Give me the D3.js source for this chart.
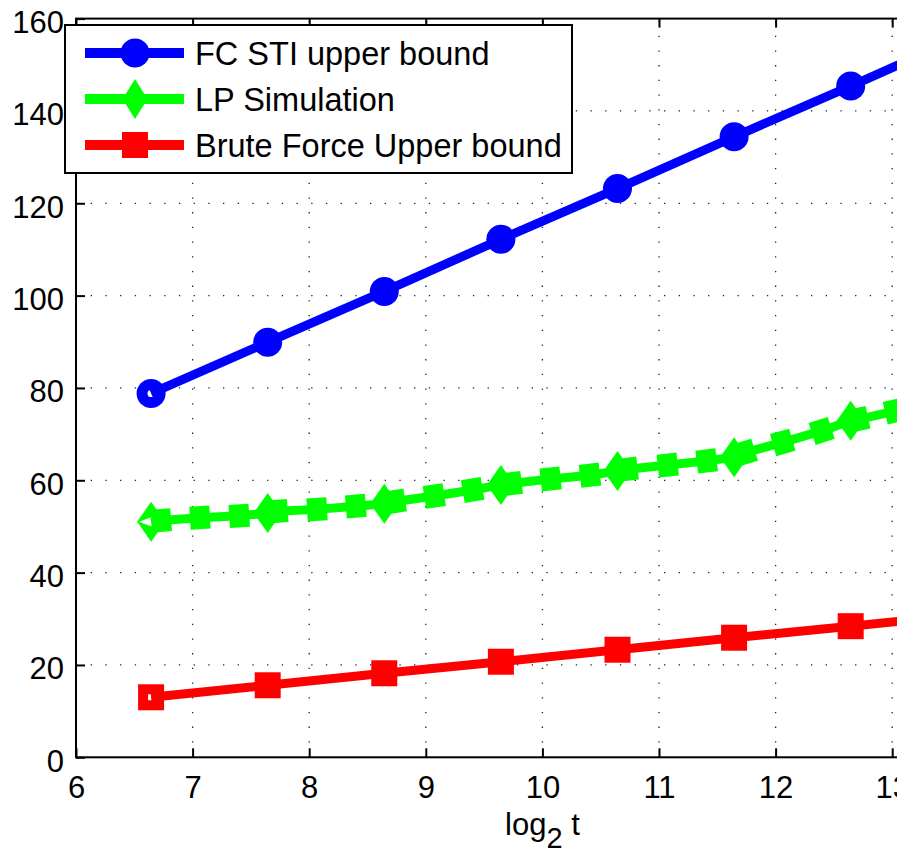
<!DOCTYPE html>
<html>
<head>
<meta charset="utf-8">
<script src="https://cdn.jsdelivr.net/npm/d3@7/dist/d3.min.js"></script>
<style>
  html, body { margin: 0; padding: 0; background: #fff; overflow: hidden; }
  svg { display: block; }
  text { font-family: "Liberation Sans", Arial, Helvetica, sans-serif; fill: #000; }
</style>
</head>
<body>
<svg id="chart" width="897" height="854"></svg>
<script>
// ---------------- data ----------------
const xTicks = [6, 7, 8, 9, 10, 11, 12, 13, 14];
const yTicks = [0, 20, 40, 60, 80, 100, 120, 140, 160];

// log2 t of the main points (t = 100, 200, ..., 12800)
const xMain = [6.644, 7.644, 8.644, 9.644, 10.644, 11.644, 12.644, 13.644];
const fcStiUpper = [78.8, 89.9, 100.9, 112.2, 123.2, 134.4, 145.4, 156.6];
const lpSimulation = [51.0, 52.9, 54.9, 59.0, 62.0, 65.0, 72.9, 78.6];
const bruteForceUpper = [13.0, 15.6, 18.2, 20.7, 23.3, 25.9, 28.4, 31.0];

// intermediate LP simulation points
const lpStepX = [6.730, 7.063, 7.400, 7.730, 8.067, 8.400, 8.738, 9.073, 9.402, 9.737,
                 10.071, 10.408, 10.731, 11.075, 11.409, 11.738, 12.061, 12.395, 12.709, 13.024, 13.360];
const lpStepY = [51.3, 51.9, 52.3, 53.3, 53.7, 54.4, 55.4, 56.6, 57.9, 59.3,
                 60.3, 61.1, 62.4, 63.3, 64.2, 66.0, 68.2, 70.7, 73.2, 75.0, 76.8];

const seriesNames = ["FC STI upper bound", "LP Simulation", "Brute Force Upper bound"];
const seriesColors = ["#0000ff", "#00ff00", "#ff0000"];
const xLabel = "log";
const xLabelSub = "2";
const xLabelTail = " t";

// ---------------- layout ----------------
const svg = d3.select("#chart");
const x = d3.scaleLinear().domain([6, 14]).range([76, 1008.8]);
const y = d3.scaleLinear().domain([0, 160]).range([757.3, 18.6]);
const LW = 9;
const tickLen = 9;
const tickFont = 31;

// grid
const grid = svg.append("g");
grid.selectAll("line.vx").data(xTicks.filter(d => d > 6 && d < 14)).enter().append("line")
  .attr("x1", d => x(d)).attr("x2", d => x(d))
  .attr("y1", y(0)).attr("y2", y(160))
  .attr("stroke", "#222").attr("stroke-width", 1.3)
  .attr("stroke-dasharray", "1.3,13.4");
grid.selectAll("line.hy").data(yTicks.filter(d => d > 0 && d < 160)).enter().append("line")
  .attr("x1", x(6)).attr("x2", x(14))
  .attr("y1", d => y(d)).attr("y2", d => y(d))
  .attr("stroke", "#222").attr("stroke-width", 1.3)
  .attr("stroke-dasharray", "1.3,13.4");

// axes box
const axesG = svg.append("g");
axesG.append("rect")
  .attr("x", x(6)).attr("y", y(160))
  .attr("width", x(14) - x(6)).attr("height", y(0) - y(160))
  .attr("fill", "none").attr("stroke", "#000").attr("stroke-width", 2);

// ticks (inward) using d3 axes
const axB = d3.axisBottom(x).tickValues(xTicks).tickSize(-tickLen).tickFormat(d3.format("d"));
const axT = d3.axisTop(x).tickValues(xTicks).tickSize(-tickLen).tickFormat("");
const axL = d3.axisLeft(y).tickValues(yTicks).tickSize(-tickLen).tickFormat(d3.format("d"));
const axR = d3.axisRight(y).tickValues(yTicks).tickSize(-tickLen).tickFormat("");

function styleAxis(g) {
  g.select(".domain").remove();
  g.selectAll(".tick line").attr("stroke", "#000").attr("stroke-width", 2);
  g.selectAll(".tick text").style("font-size", tickFont + "px")
    .style("font-family", '"Liberation Sans", Arial, Helvetica, sans-serif').attr("fill", "#000");
}
svg.append("g").attr("transform", `translate(0,${y(0)})`).call(axB).call(styleAxis)
  .selectAll(".tick text").attr("dy", "0.71em").attr("y", 19);
svg.append("g").attr("transform", `translate(0,${y(160)})`).call(axT).call(styleAxis);
svg.append("g").attr("transform", `translate(${x(6)},0)`).call(axL).call(styleAxis)
  .selectAll(".tick text").attr("dy", "0.45em").attr("x", -12);
svg.append("g").attr("transform", `translate(${x(14)},0)`).call(axR).call(styleAxis);

// x label
const xl = svg.append("text").attr("x", x(10)).attr("y", 835)
  .attr("text-anchor", "middle").style("font-size", "31px");
xl.append("tspan").text(xLabel);
xl.append("tspan").attr("dy", 13).style("font-size", "29px").text(xLabelSub);
xl.append("tspan").attr("dy", -13).text(xLabelTail);

// ---------------- marker helpers ----------------
function drawMarker(g, type, cx, cy, color, hole) {
  if (type === "circle") {
    g.append("circle").attr("cx", cx).attr("cy", cy).attr("r", 14.5).attr("fill", color);
    if (hole) g.append("circle").attr("cx", cx).attr("cy", cy).attr("r", 3.6).attr("fill", "#fff");
  } else if (type === "diamond") {
    const hw = 14, hh = 20;
    g.append("path").attr("d", `M${cx - hw},${cy}L${cx},${cy - hh}L${cx + hw},${cy}L${cx},${cy + hh}Z`).attr("fill", color);
    if (hole) {
      const a = 12, b = 4.5;
      g.append("path").attr("d", `M${cx - a},${cy}L${cx},${cy - b}L${cx + a},${cy}L${cx},${cy + b}Z`).attr("fill", "#fff");
    }
  } else if (type === "square") {
    const s = 26;
    g.append("rect").attr("x", cx - s / 2).attr("y", cy - s / 2).attr("width", s).attr("height", s).attr("fill", color);
    if (hole) g.append("rect").attr("x", cx - 3).attr("y", cy - 3).attr("width", 6).attr("height", 6).attr("fill", "#fff");
  }
}

const plotG = svg.append("g");
const line = d3.line().x(d => x(d[0])).y(d => y(d[1]));

// ---- FC STI upper bound (blue circles)
{
  const pts = xMain.map((d, i) => [d, fcStiUpper[i]]);
  const g = plotG.append("g");
  pts.forEach((p, i) => drawMarker(g, "circle", x(p[0]), y(p[1]), seriesColors[0], i === 0));
  g.append("path").attr("d", line(pts)).attr("fill", "none")
    .attr("stroke", seriesColors[0]).attr("stroke-width", LW).attr("stroke-linejoin", "round");
}

// ---- LP Simulation (green)
{
  const main = xMain.map((d, i) => [d, lpSimulation[i]]);
  const steps = lpStepX.map((d, i) => [d, lpStepY[i]]);
  const all = main.concat(steps).sort((a, b) => a[0] - b[0]);
  const g = plotG.append("g");
  steps.forEach((p) => {
    const idx = all.indexOf(p);
    const a = all[Math.max(0, idx - 1)], b = all[Math.min(all.length - 1, idx + 1)];
    const ang = Math.atan2(y(b[1]) - y(a[1]), x(b[0]) - x(a[0])) * 180 / Math.PI;
    g.append("rect").attr("x", -10).attr("y", -11.5).attr("width", 20).attr("height", 23)
      .attr("fill", seriesColors[1])
      .attr("transform", `translate(${x(p[0])},${y(p[1])}) rotate(${ang})`);
  });
  main.forEach((p, i) => drawMarker(g, "diamond", x(p[0]), y(p[1]), seriesColors[1], i === 0));
  g.append("path").attr("d", line(all)).attr("fill", "none")
    .attr("stroke", seriesColors[1]).attr("stroke-width", LW).attr("stroke-linejoin", "round");
}

// ---- Brute Force Upper bound (red squares)
{
  const pts = xMain.map((d, i) => [d, bruteForceUpper[i]]);
  const g = plotG.append("g");
  pts.forEach((p, i) => drawMarker(g, "square", x(p[0]), y(p[1]), seriesColors[2], i === 0));
  g.append("path").attr("d", line(pts)).attr("fill", "none")
    .attr("stroke", seriesColors[2]).attr("stroke-width", LW).attr("stroke-linejoin", "round");
}

// ---------------- legend ----------------
const legend = svg.append("g");
legend.append("rect").attr("x", 65).attr("y", 25).attr("width", 507).attr("height", 148)
  .attr("fill", "#fff").attr("stroke", "#000").attr("stroke-width", 2);
const legendRows = [53, 99, 145];
const legendMarkers = ["circle", "diamond", "square"];
seriesNames.forEach((name, i) => {
  const cy = legendRows[i];
  legend.append("line").attr("x1", 85).attr("x2", 184).attr("y1", cy).attr("y2", cy)
    .attr("stroke", seriesColors[i]).attr("stroke-width", 10);
  if (legendMarkers[i] === "diamond") {
    legend.append("path").attr("d", `M${135 - 12.5},${cy}L135,${cy - 20}L${135 + 12.5},${cy}L135,${cy + 20}Z`)
      .attr("fill", seriesColors[i]);
  } else {
    drawMarker(legend, legendMarkers[i], 135, cy, seriesColors[i], false);
  }
  legend.append("text").attr("x", 195).attr("y", cy + 12).style("font-size", "32.5px").text(name);
});
</script>
</body>
</html>
